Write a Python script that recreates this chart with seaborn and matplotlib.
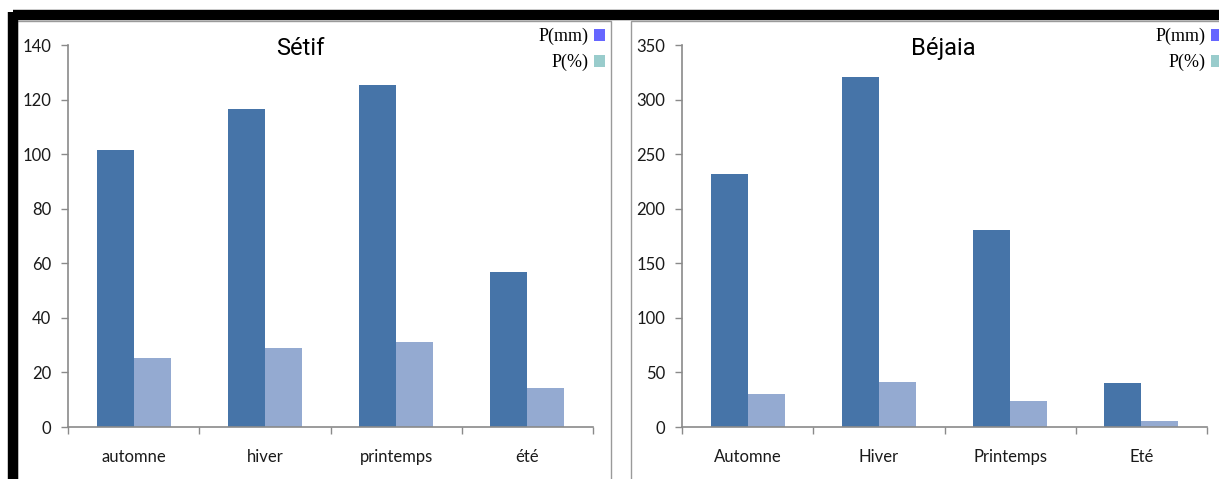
import matplotlib
matplotlib.use("Agg")
import matplotlib.pyplot as plt
from matplotlib.patches import Rectangle
from matplotlib.lines import Line2D
import seaborn as sns
import pandas as pd

# Seasonal rainfall: totals (mm) and share of the annual total (%)
setif_saisons = ["automne", "hiver", "printemps", "été"]
setif_mm = [101.5, 116.5, 125.3, 56.8]
setif_pct = [25.4, 29.1, 31.3, 14.2]

bejaia_saisons = ["Automne", "Hiver", "Printemps", "Eté"]
bejaia_mm = [231.5, 320.5, 180.5, 40.5]
bejaia_pct = [30.0, 41.5, 23.4, 5.2]

series_labels = ["P(mm)", "P(%)"]
bar_colors = ["#4674A8", "#94AAD1"]
legend_colors = ["#6666FF", "#99CCCC"]

sns.set_theme(style="white")
plt.rcParams["font.family"] = ["Lato", "DejaVu Sans"]

W, H = 1219, 479
fig = plt.figure(figsize=(W / 100, H / 100), dpi=100)


def fx(px):
    return px / W


def fy(py):
    return 1 - py / H


# outer black frame (top and left edges)
fig.add_artist(Line2D([fx(12.5), fx(1219)], [fy(15), fy(15)], color="black", lw=7.5,
                      solid_capstyle="butt", transform=fig.transFigure))
fig.add_artist(Line2D([fx(12.5), fx(12.5)], [fy(11.5), fy(479)], color="black", lw=7.5,
                      solid_capstyle="butt", transform=fig.transFigure))

# panel borders
for x0, x1 in [(17, 611), (631, 1240)]:
    fig.add_artist(Rectangle((fx(x0), fy(490)), fx(x1 - x0), fy(21) - fy(490),
                             transform=fig.transFigure, fill=False,
                             edgecolor="#9a9a9a", lw=1.0))


def panel(left_px, saisons, mm, pct, ymax, ystep, title, title_x, leg_x):
    df = pd.DataFrame({
        "saison": saisons * 2,
        "valeur": list(mm) + list(pct),
        "serie": [series_labels[0]] * len(saisons) + [series_labels[1]] * len(saisons),
    })
    ax = fig.add_axes([fx(left_px), fy(427), fx(525), fy(45) - fy(427)])
    sns.barplot(data=df, x="saison", y="valeur", hue="serie", palette=bar_colors,
                width=0.565, saturation=1, ax=ax, legend=False, linewidth=0)
    n = len(saisons)
    ax.set_xlim(-0.5, n - 0.5)
    ax.set_ylim(0, ymax)
    ax.set_xlabel("")
    ax.set_ylabel("")
    ax.set_yticks(range(0, ymax + 1, ystep))
    ax.set_xticks([i - 0.5 for i in range(n + 1)])
    ax.set_xticklabels([])
    ax.set_xticks(range(n), minor=True)
    ax.set_xticklabels(saisons, minor=True)
    ax.tick_params(axis="x", which="major", direction="out", length=5, width=1,
                   color="#8a8a8a", bottom=True)
    ax.tick_params(axis="x", which="minor", length=0, pad=16, labelsize=12,
                   labelcolor="#1a1a1a")
    ax.tick_params(axis="y", direction="out", length=5, width=1, color="#8a8a8a",
                   left=True, pad=7, labelsize=12, labelcolor="#1a1a1a")
    for s in ["top", "right"]:
        ax.spines[s].set_visible(False)
    for s in ["left", "bottom"]:
        ax.spines[s].set_color("#8a8a8a")
        ax.spines[s].set_linewidth(1.2)
    ax.grid(False)

    fig.text(fx(title_x), fy(55), title, ha="center", va="baseline", fontsize=17,
             family=["Liberation Sans Narrow", "Roboto", "DejaVu Sans"], color="black")
    for i, (lab, col) in enumerate(zip(series_labels, legend_colors)):
        ytop = 29 + i * 26
        fig.text(fx(leg_x - 5), fy(ytop + 12), lab, ha="right", va="baseline",
                 fontsize=13, family=["Liberation Serif", "DejaVu Serif"], color="black")
        fig.add_artist(Rectangle((fx(leg_x), fy(ytop + 12)), fx(11), fy(ytop) - fy(ytop + 12),
                                 transform=fig.transFigure, facecolor=col,
                                 edgecolor="none"))
    return ax


panel(68, setif_saisons, setif_mm, setif_pct, 140, 20, "Sétif", 300, 594)
panel(682, bejaia_saisons, bejaia_mm, bejaia_pct, 350, 50, "Béjaia", 943, 1211)

fig.savefig("out.png", dpi=100)
